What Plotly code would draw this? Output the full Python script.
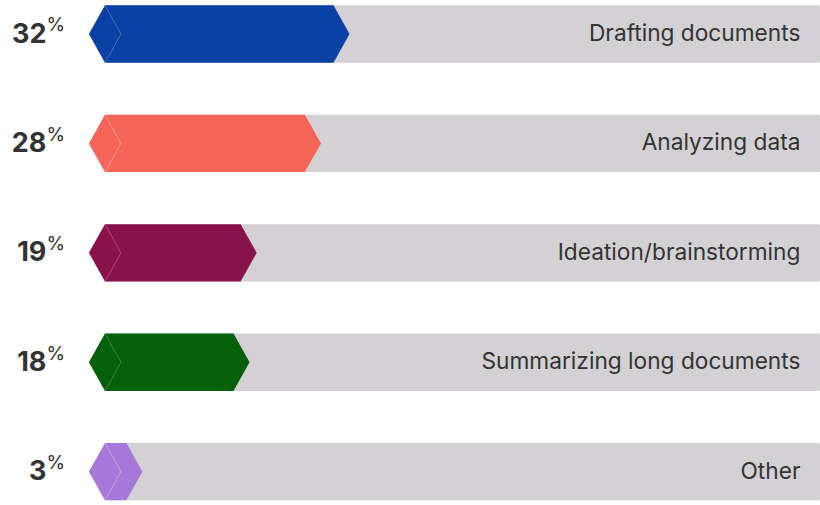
import plotly.graph_objects as go

# Survey results: share of respondents by use case
categories = ["Drafting documents", "Analyzing data", "Ideation/brainstorming",
              "Summarizing long documents", "Other"]
values = [32, 28, 19, 18, 3]
colors = ["#0A41A3", "#F56558", "#8A124C", "#04600A", "#A679D8"]
seam_colors = ["#5C80C8", "#FBA59C", "#C25C8C", "#4C9450", "#D2B6EE"]
track_max = 100
track_color = "#D3D1D4"

TIP = 2.25      # chevron depth, in percentage units
HALF = 0.262    # half bar thickness, in row units

fig = go.Figure()

for i, (cat, v, c, sc) in enumerate(zip(categories, values, colors, seam_colors)):
    y = i
    # grey track with pointed right end
    fig.add_trace(go.Scatter(
        x=[0, track_max, track_max + TIP, track_max, 0, 0],
        y=[y - HALF, y - HALF, y, y + HALF, y + HALF, y - HALF],
        fill="toself", fillcolor=track_color, mode="lines",
        line=dict(width=0), hoverinfo="skip", showlegend=False))
    # coloured chevron bar
    fig.add_trace(go.Scatter(
        x=[-TIP, 0, v, v + TIP, v, 0, -TIP],
        y=[y, y - HALF, y - HALF, y, y + HALF, y + HALF, y],
        fill="toself", fillcolor=c, mode="lines",
        line=dict(width=0), hoverinfo="skip", showlegend=False))
    # thin seam marking the left chevron
    fig.add_trace(go.Scatter(
        x=[0, TIP, 0], y=[y - HALF, y, y + HALF],
        mode="lines", line=dict(color=sc, width=0.7),
        hoverinfo="skip", showlegend=False))

rows = list(range(len(categories)))

# percentage labels left of the bars
fig.add_trace(go.Scatter(
    x=[-5.6] * len(values), y=[r + 0.017 for r in rows], mode="text",
    text=[f"<b>{v}</b><sup>%</sup>" for v in values],
    textposition="middle left",
    textfont=dict(family="Inter", size=27, color="#333333"),
    hoverinfo="skip", showlegend=False))

# category names, right-aligned inside the tracks
fig.add_trace(go.Scatter(
    x=[97.4] * len(categories), y=[r + 0.012 for r in rows], mode="text",
    text=categories, textposition="middle left",
    textfont=dict(family="Inter", size=22.7, color="#333333"),
    hoverinfo="skip", showlegend=False))

fig.update_layout(
    width=820, height=505,
    margin=dict(l=0, r=0, t=0, b=0),
    paper_bgcolor="white", plot_bgcolor="white",
    xaxis=dict(range=[-14.7, 100.14], visible=False, fixedrange=True),
    yaxis=dict(range=[4.305, -0.311], visible=False, fixedrange=True),
    showlegend=False,
)

fig.write_html("out.html")
